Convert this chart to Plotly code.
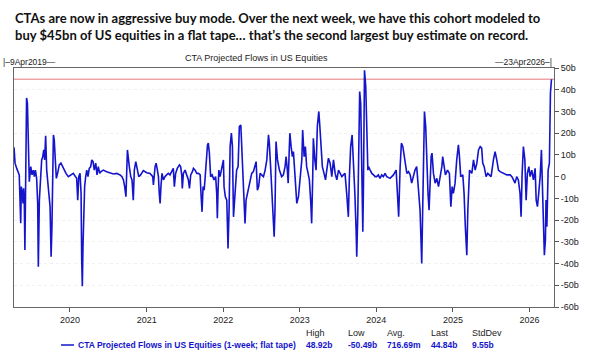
import plotly.graph_objects as go

# ---------------- data ----------------
dates = [
"2019-04-09","2019-04-14","2019-04-22","2019-04-30","2019-05-04","2019-05-11","2019-05-14","2019-05-19","2019-05-22","2019-05-25",
"2019-05-28","2019-05-31","2019-06-04","2019-06-08","2019-06-12","2019-06-15","2019-06-18","2019-06-21","2019-06-28","2019-07-04",
"2019-07-10","2019-07-15","2019-07-20","2019-07-26","2019-07-31","2019-08-03","2019-08-08","2019-08-13","2019-08-19","2019-08-24",
"2019-08-29","2019-09-02","2019-09-07","2019-09-12","2019-09-17","2019-09-23","2019-09-28","2019-10-03","2019-10-07","2019-10-14",
"2019-10-18","2019-10-23","2019-10-28","2019-11-03","2019-11-11","2019-11-19","2019-11-30","2019-12-13","2019-12-24","2020-01-04",
"2020-01-17","2020-01-27","2020-02-02","2020-02-07","2020-02-12","2020-02-18","2020-02-23","2020-02-26","2020-02-29","2020-03-03",
"2020-03-06","2020-03-11","2020-03-16","2020-03-21","2020-03-27","2020-04-02","2020-04-09","2020-04-14","2020-04-20","2020-04-26",
"2020-05-03","2020-05-09","2020-05-15","2020-05-22","2020-05-28","2020-06-08","2020-06-24","2020-07-10","2020-07-26","2020-08-11",
"2020-08-27","2020-09-05","2020-09-12","2020-09-18","2020-09-24","2020-10-01","2020-10-06","2020-10-10","2020-10-17","2020-10-23",
"2020-10-29","2020-11-03","2020-11-10","2020-11-16","2020-11-24","2020-12-03","2020-12-16","2021-01-01","2021-01-17","2021-01-30",
"2021-02-02","2021-02-10","2021-02-15","2021-02-21","2021-02-26","2021-03-02","2021-03-06","2021-03-10","2021-03-15","2021-03-22",
"2021-03-29","2021-04-06","2021-04-14","2021-04-22","2021-04-30","2021-05-08","2021-05-13","2021-05-19","2021-05-27","2021-06-06",
"2021-06-12","2021-06-17","2021-06-20","2021-06-25","2021-07-03","2021-07-11","2021-07-19","2021-07-24","2021-07-30","2021-08-07",
"2021-08-12","2021-08-20","2021-08-28","2021-09-05","2021-09-13","2021-09-17","2021-09-22","2021-09-27","2021-10-02","2021-10-06",
"2021-10-11","2021-10-18","2021-10-22","2021-10-27","2021-11-02","2021-11-09","2021-11-18","2021-11-26","2021-12-01","2021-12-04",
"2021-12-07","2021-12-11","2021-12-17","2021-12-25","2022-01-02","2022-01-05","2022-01-11","2022-01-18","2022-01-21","2022-01-24",
"2022-01-29","2022-02-03","2022-02-09","2022-02-14","2022-02-19","2022-02-23","2022-02-28","2022-03-06","2022-03-13","2022-03-19",
"2022-03-26","2022-03-30","2022-04-04","2022-04-09","2022-04-15","2022-04-20","2022-04-26","2022-05-03","2022-05-09","2022-05-17",
"2022-05-25","2022-06-02","2022-06-07","2022-06-13","2022-06-19","2022-06-26","2022-07-04","2022-07-12","2022-07-20","2022-07-28",
"2022-08-05","2022-08-09","2022-08-16","2022-08-20","2022-08-25","2022-09-01","2022-09-05","2022-09-10","2022-09-17","2022-09-26",
"2022-10-07","2022-10-15","2022-10-23","2022-10-28","2022-11-03","2022-11-07","2022-11-12","2022-11-15","2022-11-21","2022-11-27",
"2022-12-02","2022-12-08","2022-12-13","2022-12-18","2022-12-26","2023-01-03","2023-01-11","2023-01-15","2023-01-22","2023-01-28",
"2023-02-03","2023-02-10","2023-02-16","2023-02-23","2023-02-27","2023-03-04","2023-03-07","2023-03-14","2023-03-20","2023-03-26",
"2023-04-02","2023-04-06","2023-04-13","2023-04-19","2023-04-27","2023-05-04","2023-05-10","2023-05-18","2023-05-26","2023-06-03",
"2023-06-11","2023-06-19","2023-06-27","2023-07-05","2023-07-13","2023-07-21","2023-07-28","2023-08-05","2023-08-13","2023-08-21",
"2023-08-26","2023-09-01","2023-09-08","2023-09-14","2023-09-21","2023-09-27","2023-09-30","2023-10-05","2023-10-10","2023-10-14",
"2023-10-19","2023-10-24","2023-10-29","2023-11-01","2023-11-06","2023-11-12","2023-11-17","2023-11-22","2023-11-25","2023-12-03",
"2023-12-11","2023-12-19","2023-12-27","2024-01-03","2024-01-11","2024-01-19","2024-01-27","2024-02-04","2024-02-12","2024-02-20",
"2024-03-07","2024-03-23","2024-04-05","2024-04-11","2024-04-17","2024-04-24","2024-04-30","2024-05-07","2024-05-13","2024-05-19",
"2024-05-26","2024-06-03","2024-06-11","2024-06-18","2024-06-26","2024-07-04","2024-07-12","2024-07-20","2024-07-28","2024-08-05",
"2024-08-10","2024-08-13","2024-08-18","2024-08-24","2024-08-29","2024-09-04","2024-09-09","2024-09-14","2024-09-19","2024-09-23",
"2024-09-30","2024-10-08","2024-10-16","2024-10-24","2024-11-01","2024-11-09","2024-11-13","2024-11-20","2024-11-26","2024-12-06",
"2024-12-15","2024-12-22","2024-12-28","2025-01-03","2025-01-11","2025-01-19","2025-01-27","2025-02-01","2025-02-07","2025-02-17",
"2025-02-23","2025-03-01","2025-03-08","2025-03-13","2025-03-21","2025-04-01","2025-04-09","2025-04-17","2025-04-25","2025-05-03",
"2025-05-11","2025-05-18","2025-05-23","2025-05-30","2025-06-08","2025-06-16","2025-06-24","2025-07-02","2025-07-13","2025-07-21",
"2025-07-29","2025-08-06","2025-08-14","2025-08-30","2025-09-15","2025-10-01","2025-10-09","2025-10-17","2025-10-24","2025-11-01",
"2025-11-09","2025-11-17","2025-11-22","2025-11-27","2025-12-03","2025-12-10","2025-12-16","2025-12-22","2025-12-29","2026-01-04",
"2026-01-12","2026-01-20","2026-01-28","2026-02-02","2026-02-08","2026-02-14","2026-02-21","2026-02-27","2026-03-05","2026-03-09",
"2026-03-13","2026-03-18","2026-03-21","2026-03-25","2026-03-31","2026-04-06","2026-04-11","2026-04-16",
]

flows_bn = [
13.5,6.2,3.8,2.3,0.8,-21.5,-4.6,-7.7,-12.3,-5.4,
-10.8,-33.8,-7.7,36.2,33.8,23.0,7.7,-2.3,4.6,0.8,
3.0,0.0,3.0,-0.8,-12.3,-41.5,-10.8,0.0,7.7,9.2,
12.3,7.7,18.8,3.0,-3.0,-7.7,-13.8,-36.9,-23.0,19.2,
16.9,7.7,-0.8,1.5,5.4,6.2,3.8,1.5,0.0,0.8,
1.5,0.0,-0.8,-10.8,0.0,1.5,-7.7,-38.5,-50.49,-32.3,
-18.5,-4.6,0.0,3.0,0.0,3.8,4.6,7.7,6.9,3.0,
6.2,0.8,4.6,1.5,2.3,3.0,2.3,1.8,1.2,1.5,
0.8,0.0,-1.5,-4.6,-9.2,12.3,9.2,4.6,0.0,-1.5,
-10.8,3.0,6.9,3.0,0.0,0.8,2.8,1.8,1.5,0.0,
-3.8,4.6,6.2,3.0,0.0,-7.7,-12.3,-4.6,1.5,-1.5,
0.0,0.8,1.5,0.8,2.3,3.8,-4.6,1.5,3.8,5.4,
4.6,0.8,-5.4,1.5,3.0,0.8,-1.5,-5.4,0.8,2.3,
3.8,3.0,1.5,1.5,0.8,-7.7,-16.2,-4.6,-6.2,-1.5,
7.7,14.6,15.4,10.8,0.0,0.8,-1.5,0.0,-7.7,-19.2,
-7.7,3.0,0.0,4.6,7.7,-4.6,-9.2,-10.8,-20.0,-33.1,
-15.4,13.8,20.0,13.8,-18.5,-13.8,-4.6,3.0,4.6,23.0,
23.8,15.4,4.6,-7.7,-21.5,-10.8,-7.7,-4.6,-1.5,1.5,
2.3,4.6,6.9,-6.2,-4.6,1.5,0.8,0.0,3.0,7.7,
19.2,15.4,3.0,-4.6,-10.8,-27.7,-15.4,16.2,7.7,3.0,
0.0,0.8,4.6,9.2,3.0,-3.0,12.3,20.0,13.8,9.2,
11.5,3.0,-4.6,-12.3,-9.2,1.5,7.7,21.5,9.2,13.8,
4.6,1.5,-1.5,-12.3,-21.5,0.0,17.7,7.7,3.0,23.0,
30.0,24.6,10.8,4.6,1.5,-1.5,3.0,8.5,6.2,0.0,
7.7,1.5,-1.5,3.0,1.5,0.0,0.8,1.5,-7.7,-18.5,
0.0,13.8,19.2,7.7,-7.7,-24.6,-36.9,-16.9,23.0,39.2,
33.8,-10.8,-25.4,-4.6,48.92,41.5,23.0,3.0,4.6,3.0,
1.5,0.8,0.0,0.0,0.8,-0.8,0.8,0.0,1.5,0.0,
-0.8,0.8,3.0,-7.7,-18.5,4.6,15.4,13.8,9.2,4.6,
1.5,2.3,0.8,-3.0,0.8,3.0,4.6,-4.6,-15.4,-40.0,
-10.8,13.8,30.0,23.0,5.0,-7.7,-15.4,3.0,9.2,10.8,
1.5,-3.0,-0.8,-4.6,0.0,4.6,9.2,3.0,0.8,3.0,
1.5,-13.8,-4.6,-7.7,-3.0,7.7,14.6,9.2,0.0,0.8,
-7.7,-23.0,-36.2,-15.4,3.0,1.5,7.7,3.0,6.2,12.3,
13.8,13.1,6.2,4.6,0.0,1.5,0.8,0.0,7.7,11.5,
7.7,3.0,2.3,1.5,0.8,0.8,0.0,-1.5,-3.0,0.0,
-1.5,-7.7,-18.5,1.5,13.8,7.7,-10.8,1.5,4.6,0.0,
3.0,-1.5,3.8,-10.8,-13.8,-7.7,0.0,12.3,-4.6,-24.6,
-36.2,-29.2,-10.8,-23.0,3.0,6.2,38.5,44.84,
]

y_tick_vals = [-60, -50, -40, -30, -20, -10, 0, 10, 20, 30, 40, 50]
y_tick_text = ["-60b", "-50b", "-40b", "-30b", "-20b", "-10b", "0", "10b", "20b", "30b", "40b", "50b"]

series_name = "CTA Projected Flows in US Equities (1-week; flat tape)"
chart_header = "CTA Projected Flows in US Equities"
start_label = "9Apr2019"
end_label = "23Apr2026"
stat_names = ["High", "Low", "Avg.", "Last", "StdDev"]
stat_values = ["48.92b", "-50.49b", "716.69m", "44.84b", "9.55b"]
title_lines = [
    "CTAs are now in aggressive buy mode. Over the next week, we have this cohort modeled to",
    "buy $45bn of US equities in a flat tape… that’s the second largest buy estimate on record.",
]

# ---------------- layout geometry ----------------
W, H = 592, 357
L, R, T, B = 14, 554, 68, 307
BLUE = "#1414cc"
TXT = "#222222"
FONT = "Liberation Sans, Arial, sans-serif"
TITLE_FONT = "Lato, Roboto, sans-serif"

def px(x):
    return (x - L) / (R - L)

def py(y):
    return (B - y) / (B - T)

fig = go.Figure()
fig.add_trace(go.Scatter(
    x=dates, y=flows_bn, mode="lines",
    line=dict(color=BLUE, width=1.6),
    showlegend=False, hoverinfo="skip",
))

fig.add_hline(y=flows_bn[-1], line=dict(color="#eca4a4", width=1.5), layer="below")

anns = []
anns.append(dict(x=px(13), y=py(26), xref="paper", yref="paper",
                 text="<b>" + "<br>".join(title_lines) + "</b>", align="left",
                 showarrow=False, xanchor="left", yanchor="middle",
                 font=dict(family=TITLE_FONT, size=13, color="#111111")))
anns.append(dict(x=px(256), y=py(58), xref="paper", yref="paper", text=chart_header,
                 showarrow=False, xanchor="center", yanchor="middle",
                 font=dict(family=FONT, size=9, color=TXT)))
anns.append(dict(x=px(1), y=py(62), xref="paper", yref="paper", text="|–" + start_label + "—",
                 showarrow=False, xanchor="left", yanchor="middle",
                 font=dict(family=FONT, size=8.5, color=TXT)))
anns.append(dict(x=px(554), y=py(62), xref="paper", yref="paper", text="—" + end_label + "–|",
                 showarrow=False, xanchor="right", yanchor="middle",
                 font=dict(family=FONT, size=8.5, color=TXT)))
anns.append(dict(x=px(76), y=py(345), xref="paper", yref="paper", text="<b>" + series_name + "</b>",
                 showarrow=False, xanchor="left", yanchor="middle",
                 font=dict(family=FONT, size=8.5, color=BLUE)))
stat_left = [304, 346, 385, 429, 470]
for name, val, xl in zip(stat_names, stat_values, stat_left):
    anns.append(dict(x=px(xl), y=py(333), xref="paper", yref="paper", text=name,
                     showarrow=False, xanchor="left", yanchor="middle",
                     font=dict(family=FONT, size=9, color=TXT)))
    anns.append(dict(x=px(xl), y=py(345), xref="paper", yref="paper", text="<b>" + val + "</b>",
                     showarrow=False, xanchor="left", yanchor="middle",
                     font=dict(family=FONT, size=8.5, color=BLUE)))

fig.add_shape(type="line", xref="paper", yref="paper",
              x0=px(61), x1=px(74), y0=py(345), y1=py(345),
              line=dict(color=BLUE, width=1.5))

fig.update_layout(
    width=W, height=H,
    margin=dict(l=L, r=W - R, t=T, b=H - B, pad=0),
    paper_bgcolor="white", plot_bgcolor="white",
    annotations=anns,
    xaxis=dict(type="date", range=["2019-04-09", "2026-04-28"],
               tick0="2020-01-01", dtick="M12", tickformat="%Y",
               ticks="outside", ticklen=4, tickcolor="#555",
               showgrid=False, showline=True, mirror=True, linecolor="#666", linewidth=1,
               tickfont=dict(family=FONT, size=9, color=TXT), zeroline=False),
    yaxis=dict(range=[-60, 50], side="right", tickvals=y_tick_vals, ticktext=y_tick_text,
               ticks="outside", ticklen=4, tickcolor="#555",
               showgrid=True, gridcolor="#f0f0f0", griddash="dot",
               showline=True, mirror=True, linecolor="#666", linewidth=1,
               tickfont=dict(family=FONT, size=9, color=TXT), zeroline=False),
)

fig.write_html("out.html", config={"displayModeBar": False},
               post_script="document.body.style.margin='0';document.body.style.padding='0';")
